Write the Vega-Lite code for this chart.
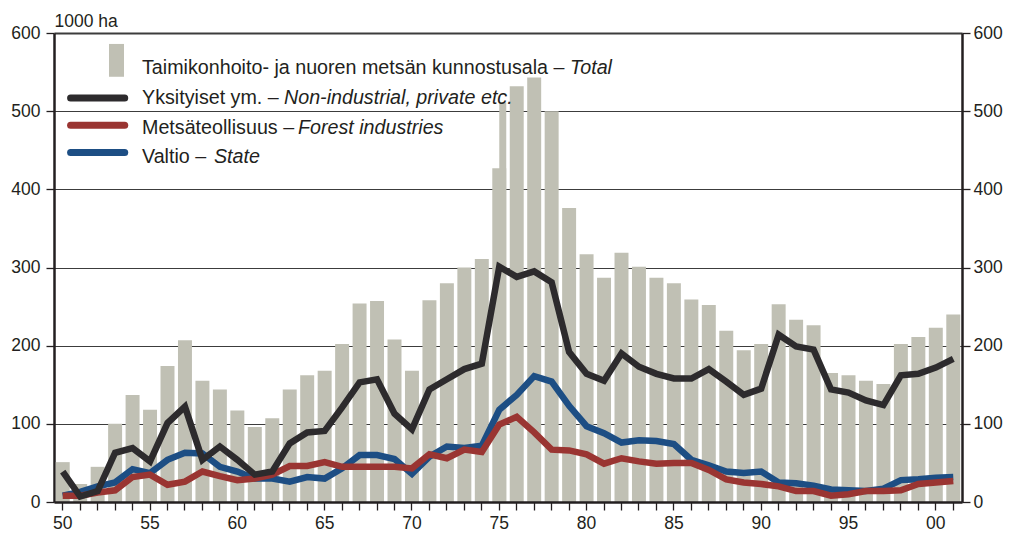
{
  "$schema": "https://vega.github.io/schema/vega-lite/v6.json",
  "width": 908,
  "height": 469,
  "autosize": "none",
  "padding": {"left": 54, "top": 33, "right": 51, "bottom": 37},
  "background": "white",
  "config": {
    "view": {"stroke": null},
    "font": "Liberation Sans, Arial, sans-serif",
    "text": {"font": "Liberation Sans, Arial, sans-serif"},
    "axis": {
      "labelFont": "Liberation Sans, Arial, sans-serif",
      "titleFont": "Liberation Sans, Arial, sans-serif",
      "labelColor": "#231f20",
      "titleColor": "#231f20",
      "domainColor": "#231f20",
      "tickColor": "#231f20",
      "labelFontSize": 17.5,
      "domainWidth": 2.5,
      "tickWidth": 1.3,
      "tickSize": 8
    }
  },
  "datasets": {
    "forest": [
      {"year": 1950, "total": 51, "private": 39, "industry": 8, "state": 8},
      {"year": 1951, "total": 23, "private": 7, "industry": 8, "state": 13},
      {"year": 1952, "total": 45, "private": 14, "industry": 12, "state": 20},
      {"year": 1953, "total": 100, "private": 63, "industry": 15, "state": 25},
      {"year": 1954, "total": 137, "private": 69, "industry": 32, "state": 42},
      {"year": 1955, "total": 118, "private": 52, "industry": 35, "state": 37},
      {"year": 1956, "total": 174, "private": 101, "industry": 22, "state": 54},
      {"year": 1957, "total": 207, "private": 122, "industry": 26, "state": 63},
      {"year": 1958, "total": 155, "private": 54, "industry": 39, "state": 62},
      {"year": 1959, "total": 144, "private": 71, "industry": 33, "state": 45},
      {"year": 1960, "total": 117, "private": 54, "industry": 28, "state": 39},
      {"year": 1961, "total": 96, "private": 35, "industry": 30, "state": 30},
      {"year": 1962, "total": 107, "private": 39, "industry": 35, "state": 30},
      {"year": 1963, "total": 144, "private": 75, "industry": 46, "state": 26},
      {"year": 1964, "total": 162, "private": 89, "industry": 46, "state": 32},
      {"year": 1965, "total": 168, "private": 91, "industry": 51, "state": 30},
      {"year": 1966, "total": 202, "private": 121, "industry": 45, "state": 43},
      {"year": 1967, "total": 254, "private": 153, "industry": 45, "state": 60},
      {"year": 1968, "total": 257, "private": 157, "industry": 45, "state": 60},
      {"year": 1969, "total": 208, "private": 113, "industry": 45, "state": 55},
      {"year": 1970, "total": 168, "private": 93, "industry": 43, "state": 36},
      {"year": 1971, "total": 258, "private": 144, "industry": 61, "state": 58},
      {"year": 1972, "total": 280, "private": 157, "industry": 56, "state": 71},
      {"year": 1973, "total": 300, "private": 170, "industry": 67, "state": 69},
      {"year": 1974, "total": 311, "private": 177, "industry": 64, "state": 72},
      {"year": 1975, "total": 427, "upper": 511, "private": 301, "industry": 99, "state": 118},
      {"year": 1976, "total": 532, "private": 288, "industry": 109, "state": 137},
      {"year": 1977, "total": 543, "private": 295, "industry": 89, "state": 161},
      {"year": 1978, "total": 500, "private": 281, "industry": 67, "state": 154},
      {"year": 1979, "total": 376, "private": 192, "industry": 66, "state": 123},
      {"year": 1980, "total": 317, "private": 164, "industry": 61, "state": 97},
      {"year": 1981, "total": 287, "private": 155, "industry": 49, "state": 88},
      {"year": 1982, "total": 319, "private": 190, "industry": 56, "state": 76},
      {"year": 1983, "total": 301, "private": 173, "industry": 52, "state": 79},
      {"year": 1984, "total": 287, "private": 164, "industry": 49, "state": 78},
      {"year": 1985, "total": 280, "private": 158, "industry": 50, "state": 74},
      {"year": 1986, "total": 259, "private": 158, "industry": 50, "state": 54},
      {"year": 1987, "total": 252, "private": 170, "industry": 41, "state": 47},
      {"year": 1988, "total": 219, "private": 154, "industry": 29, "state": 39},
      {"year": 1989, "total": 194, "private": 137, "industry": 25, "state": 37},
      {"year": 1990, "total": 202, "private": 145, "industry": 23, "state": 39},
      {"year": 1991, "total": 253, "private": 214, "industry": 20, "state": 25},
      {"year": 1992, "total": 233, "private": 199, "industry": 14, "state": 24},
      {"year": 1993, "total": 226, "private": 195, "industry": 14, "state": 21},
      {"year": 1994, "total": 165, "private": 144, "industry": 8, "state": 16},
      {"year": 1995, "total": 162, "private": 140, "industry": 10, "state": 15},
      {"year": 1996, "total": 155, "private": 130, "industry": 14, "state": 14},
      {"year": 1997, "total": 151, "private": 124, "industry": 14, "state": 17},
      {"year": 1998, "total": 202, "private": 162, "industry": 15, "state": 28},
      {"year": 1999, "total": 211, "private": 164, "industry": 23, "state": 29},
      {"year": 2000, "total": 223, "private": 172, "industry": 25, "state": 31},
      {"year": 2001, "total": 240, "private": 183, "industry": 27, "state": 32}
    ]
  },
  "layer": [
    {
      "data": {"name": "forest"},
      "encoding": {
        "x": {
          "field": "year",
          "type": "ordinal",
          "scale": {"paddingInner": 0.2, "paddingOuter": 0.1},
          "axis": {
            "title": null,
            "labelAngle": 0,
            "labelExpr": "datum.value % 5 == 0 ? slice(toString(datum.value), 2) : ''",
            "labelPadding": 4,
            "zindex": 2
          }
        }
      },
      "layer": [
        {
          "mark": {"type": "bar", "color": "#c0c0b4"},
          "encoding": {
            "y": {
              "field": "total",
              "type": "quantitative",
              "scale": {"domain": [0, 600], "nice": false},
              "axis": {
                "orient": "left",
                "values": [0, 100, 200, 300, 400, 500, 600],
                "grid": true,
                "gridColor": "#3c3c3c",
                "gridWidth": {"condition": {"test": "datum.value === 600", "value": 2.2}, "value": 1.1},
                "labelPadding": 6,
                "title": "1000 ha",
                "titleAngle": 0,
                "titleAlign": "left",
                "titleBaseline": "alphabetic",
                "titleX": 0,
                "titleY": -7,
                "titleFontSize": 17.5,
                "titleFontWeight": "normal",
                "zindex": 0
              }
            }
          }
        },
        {
          "transform": [{"filter": "isValid(datum.upper)"}],
          "mark": {"type": "bar", "color": "#c0c0b4", "width": {"band": 0.5}, "xOffset": 3.5},
          "encoding": {
            "y": {"field": "upper", "type": "quantitative", "axis": null}
          }
        },
        {
          "transform": [{"fold": ["state", "industry", "private"], "as": ["series", "value"]}],
          "mark": {"type": "line", "strokeWidth": 6.5, "strokeJoin": "miter"},
          "encoding": {
            "y": {
              "field": "value",
              "type": "quantitative",
              "axis": {
                "orient": "right",
                "values": [0, 100, 200, 300, 400, 500, 600],
                "grid": false,
                "labelPadding": 3,
                "title": null,
                "zindex": 2
              }
            },
            "color": {
              "field": "series",
              "type": "nominal",
              "scale": {"domain": ["state", "industry", "private"], "range": ["#1d4e84", "#9a3532", "#2d2b2d"]},
              "legend": null
            }
          }
        }
      ],
      "resolve": {"axis": {"y": "independent"}}
    },
    {
      "data": {"values": [{}]},
      "layer": [
        {
          "mark": {"type": "rect", "color": "#c0c0b4"},
          "encoding": {
            "x": {"datum": 1952.65, "type": "quantitative", "scale": {"domain": [1949.5, 2001.5], "nice": false, "zero": false}, "axis": null},
            "x2": {"datum": 1953.51},
            "y": {"datum": 586, "type": "quantitative", "axis": null},
            "y2": {"datum": 544}
          }
        },
        {
          "mark": {"type": "rule", "color": "#2d2b2d", "strokeWidth": 7, "strokeCap": "round"},
          "encoding": {
            "x": {"datum": 1950.45, "type": "quantitative", "axis": null},
            "x2": {"datum": 1953.55},
            "y": {"datum": 517, "type": "quantitative", "axis": null}
          }
        },
        {
          "mark": {"type": "rule", "color": "#9a3532", "strokeWidth": 7, "strokeCap": "round"},
          "encoding": {
            "x": {"datum": 1950.45, "type": "quantitative", "axis": null},
            "x2": {"datum": 1953.55},
            "y": {"datum": 482, "type": "quantitative", "axis": null}
          }
        },
        {
          "mark": {"type": "rule", "color": "#1d4e84", "strokeWidth": 7, "strokeCap": "round"},
          "encoding": {
            "x": {"datum": 1950.45, "type": "quantitative", "axis": null},
            "x2": {"datum": 1953.55},
            "y": {"datum": 447, "type": "quantitative", "axis": null}
          }
        },
        {
          "mark": {"type": "text", "align": "left", "baseline": "alphabetic", "fontSize": 19.7, "lineHeight": 29.8, "color": "#231f20"},
          "encoding": {
            "x": {"datum": 1954.54, "type": "quantitative", "axis": null},
            "y": {"datum": 547.5, "type": "quantitative", "axis": null},
            "text": {"value": ["Taimikonhoito- ja nuoren metsän kunnostusala – ", "Yksityiset ym. – ", "Metsäteollisuus – ", "Valtio – "]}
          }
        },
        {
          "mark": {"type": "text", "align": "left", "baseline": "alphabetic", "fontSize": 19.7, "fontStyle": "italic", "color": "#231f20"},
          "encoding": {
            "x": {"datum": 1979.05, "type": "quantitative", "axis": null},
            "y": {"datum": 547.5, "type": "quantitative", "axis": null},
            "text": {"value": "Total"}
          }
        },
        {
          "mark": {"type": "text", "align": "left", "baseline": "alphabetic", "fontSize": 19.7, "fontStyle": "italic", "color": "#231f20"},
          "encoding": {
            "x": {"datum": 1962.67, "type": "quantitative", "axis": null},
            "y": {"datum": 509.4, "type": "quantitative", "axis": null},
            "text": {"value": "Non-industrial, private etc."}
          }
        },
        {
          "mark": {"type": "text", "align": "left", "baseline": "alphabetic", "fontSize": 19.7, "fontStyle": "italic", "color": "#231f20"},
          "encoding": {
            "x": {"datum": 1963.47, "type": "quantitative", "axis": null},
            "y": {"datum": 471.3, "type": "quantitative", "axis": null},
            "text": {"value": "Forest industries"}
          }
        },
        {
          "mark": {"type": "text", "align": "left", "baseline": "alphabetic", "fontSize": 19.7, "fontStyle": "italic", "color": "#231f20"},
          "encoding": {
            "x": {"datum": 1958.66, "type": "quantitative", "axis": null},
            "y": {"datum": 433.2, "type": "quantitative", "axis": null},
            "text": {"value": "State"}
          }
        }
      ]
    }
  ],
  "resolve": {"scale": {"x": "independent"}, "axis": {"x": "independent", "y": "independent"}}
}
